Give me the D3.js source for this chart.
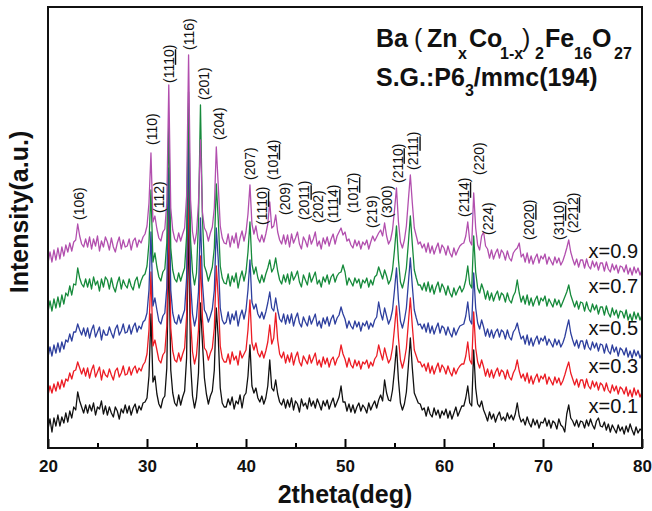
<!DOCTYPE html>
<html>
<head>
<meta charset="utf-8">
<script src="https://cdn.jsdelivr.net/npm/d3@7"></script>
<style>
  body { margin: 0; background: #fff; }
  svg { display: block; font-family: Arial, "Liberation Sans", sans-serif; }
</style>
</head>
<body>
<svg></svg>
<script>
// Scan grid: 20-80 deg, 0.2 deg step (301 points)
const twoTheta = d3.range(301).map(i => 20 + i * 0.2);

// Offset intensities (a.u.), one row = 2 deg
const xrdX01 = [
  19,29,16,30,22,33,22,31,25,35, 26,37,30,41,38,56,47,41,35,43,
  35,43,37,45,33,41,39,47,34,42, 33,41,35,31,41,37,29,39,35,43,
  35,42,33,40,44,35,42,38,45,46, 50,72,134,66,72,54,44,40,49,52,
  80,200,78,55,45,42,53,43,51,57, 90,230,85,52,40,50,75,145,105,70,
  54,44,52,57,78,140,110,60,45,41, 41,49,43,51,39,47,44,53,40,52,
  55,72,103,62,55,60,50,46,52,44, 50,62,88,60,57,68,54,46,43,49,
  40,48,41,50,38,47,44,36,49,42, 45,39,50,42,47,40,49,44,38,47,
  42,48,39,45,50,41,46,51,62,46, 46,37,44,36,43,35,41,45,37,43,
  40,35,45,38,43,47,40,48,53,47, 68,55,48,47,58,78,102,68,45,38,
  44,56,82,110,80,55,50,45,44,38, 40,32,41,34,31,40,33,38,30,37,
  33,39,30,37,29,35,41,32,37,42, 42,50,62,45,42,98,60,44,41,47,
  38,33,27,36,29,34,26,32,36,28, 31,27,35,29,33,28,34,45,32,26,
  29,23,31,25,21,29,23,28,20,26, 25,30,22,28,20,27,25,19,29,23,
  21,16,34,43,30,27,22,28,21,27, 26,20,28,22,29,23,19,27,30,22,
  21,26,18,24,16,23,19,15,23,17, 21,14,22,16,24,18,13,21,15,19,
  17
];
const xrdX03 = [
  53,62,55,64,57,66,59,68,61,69, 67,75,69,77,78,86,80,74,80,72,
  80,70,78,83,71,76,81,68,78,73, 71,79,73,68,77,80,71,75,82,73,
  74,81,73,79,82,75,80,77,83,86, 94,118,176,102,108,98,88,85,93,96,
  122,240,120,97,88,86,95,87,94,100, 132,272,128,96,84,93,118,192,130,100,
  97,88,95,100,120,182,150,102,90,86, 86,94,84,96,88,92,83,97,90,94,
  98,118,148,105,98,105,95,91,97,90, 97,106,123,104,110,135,108,94,90,96,
  85,93,86,95,83,91,96,86,82,92, 88,84,93,85,90,95,83,88,81,91,
  84,90,81,88,91,83,89,92,103,94, 89,81,90,83,80,88,82,87,79,86,
  84,88,80,86,82,89,92,103,95,88, 100,92,85,89,100,120,142,110,88,80,
  88,100,125,150,122,98,92,86,86,81, 84,77,85,75,82,74,80,85,76,83,
  80,74,82,76,72,80,74,79,82,84, 84,92,106,88,84,136,100,86,80,88,
  81,72,79,71,78,70,76,80,72,78, 76,69,78,71,68,75,79,88,77,70,
  74,67,75,65,72,64,70,74,66,72, 69,74,64,71,67,63,71,65,70,63,
  67,73,80,86,75,69,63,69,61,68, 68,60,69,62,59,67,61,66,58,65,
  63,57,65,58,55,63,57,62,54,61, 59,54,61,52,58,51,60,53,58,51,
  56
];
const xrdX05 = [
  91,101,92,103,95,105,96,106,99,108, 106,114,107,116,116,124,118,113,120,112,
  120,110,118,123,111,116,121,108,118,113, 113,121,115,110,119,123,113,117,124,115,
  116,123,114,121,125,116,122,119,126,128, 135,158,216,142,150,138,127,124,132,135,
  160,280,158,135,126,124,133,125,132,138, 170,310,166,134,122,131,156,230,165,138,
  134,126,132,139,158,220,188,140,128,124, 126,136,124,134,128,137,122,132,138,129,
  138,158,188,146,139,144,134,130,136,129, 136,145,156,140,137,150,138,129,126,134,
  124,133,125,134,122,130,135,125,121,131, 126,122,132,124,129,134,122,127,120,130,
  124,131,122,129,133,124,130,133,141,134, 129,120,127,122,119,127,121,126,117,125,
  122,127,119,125,121,128,131,146,135,128, 140,132,124,129,138,158,180,148,127,120,
  128,140,165,190,162,138,130,123,124,119, 124,116,125,115,122,114,120,125,115,122,
  120,113,121,115,111,120,113,118,122,123, 124,132,146,128,124,175,140,125,119,128,
  121,112,119,111,118,110,116,119,111,118, 116,109,118,111,108,116,119,125,116,109,
  112,104,113,103,110,102,108,112,104,110, 107,112,103,109,105,101,109,103,108,101,
  105,111,120,128,115,108,102,108,100,107, 107,99,108,101,98,106,100,105,97,104,
  103,95,104,97,94,103,96,101,92,100, 98,93,100,91,97,90,98,92,97,90,
  95
];
const xrdX07 = [
  136,147,137,149,140,151,141,153,144,155, 152,162,153,164,163,180,170,164,161,169,
  161,169,159,171,163,167,157,169,161,171, 168,159,170,161,156,165,171,159,168,163,
  160,169,162,158,167,171,160,167,172,174, 182,205,258,186,195,181,171,167,176,179,
  205,326,200,178,169,166,175,167,174,180, 212,356,208,176,163,175,225,343,230,182,
  176,167,174,181,200,264,228,182,170,165, 164,174,162,172,166,175,160,170,177,167,
  176,196,226,184,174,181,170,165,173,166, 174,180,188,176,180,190,177,168,164,173,
  166,174,164,176,168,172,177,166,161,173, 168,163,175,166,171,176,164,168,161,171,
  166,173,164,171,174,166,172,175,176,183, 176,163,170,166,162,170,165,169,160,168,
  165,170,161,168,163,171,173,181,175,169, 178,172,164,168,178,198,222,188,166,160,
  168,180,205,232,204,178,170,163,163,158, 165,157,166,156,163,154,161,166,156,164,
  160,153,162,155,151,160,153,158,162,156, 160,168,182,164,160,212,176,160,155,164,
  158,149,157,148,155,147,153,157,148,155, 153,146,155,148,145,152,156,168,155,146,
  152,144,153,143,150,142,148,152,143,150, 147,152,142,149,145,141,149,143,148,141,
  146,151,156,163,153,147,141,147,139,146, 145,137,146,139,136,144,138,143,134,141,
  141,133,142,135,131,140,133,138,130,137, 136,130,138,128,134,127,136,129,135,128,
  133
];
const xrdX09 = [
  185,196,186,198,188,200,189,201,192,203, 196,205,197,206,208,224,212,204,201,209,
  201,211,199,209,202,212,197,207,201,211, 206,198,210,201,196,205,211,199,208,201,
  202,209,198,207,210,201,208,205,211,214, 222,245,295,226,232,219,210,207,216,219,
  245,363,240,218,209,206,215,207,214,220, 252,393,248,216,204,215,245,308,236,220,
  216,207,215,221,240,301,262,222,210,205, 204,214,201,212,205,215,200,210,217,207,
  216,234,263,224,214,222,210,206,213,206, 214,224,246,220,222,233,216,208,204,213,
  204,213,201,214,205,210,216,204,199,211, 207,201,213,204,209,216,202,207,199,210,
  204,211,202,209,214,204,212,216,220,213, 216,207,209,203,200,208,202,207,199,206,
  203,208,199,206,212,207,211,215,218,212, 225,212,204,208,218,238,260,226,206,200,
  208,222,248,273,245,220,212,204,206,200, 204,196,205,195,202,194,200,205,195,203,
  200,193,202,195,191,200,193,198,202,204, 205,212,226,207,203,255,220,203,198,212,
  216,202,199,190,198,189,195,199,190,198, 195,188,197,190,187,195,198,200,205,191,
  194,186,195,185,192,184,190,194,185,192, 189,194,184,191,187,183,191,185,190,183,
  187,193,200,208,196,189,183,189,181,188, 188,180,189,182,179,187,181,186,178,185,
  185,177,186,179,176,184,178,183,175,182, 181,176,183,174,180,173,181,175,180,173,
  178
];

const compositions = ["x=0.1", "x=0.3", "x=0.5", "x=0.7", "x=0.9"];
const compLevel = [35, 75, 113, 155, 190];
const seriesColors = ["#111111", "#ec1c24", "#2e3f9e", "#168a3b", "#b24fae"];
const patterns = [xrdX01, xrdX03, xrdX05, xrdX07, xrdX09];

// Miller index labels: "_" marks the underlined part
const hklText = ["(106)", "(110)", "(112)", "(11_10_)", "(116)", "(201)", "(204)", "(207)",
  "(11_10_)", "(10_14_)", "(209)", "(20_11_)", "(202)", "(11_14_)", "(10_17_)", "(219)",
  "(300)", "(21_10_)", "(21_11_)", "(21_14_)", "(220)", "(224)", "(20_20_)", "(31_10_)", "(22_12_)"];
const hklAngle = [23.1, 30.5, 31.2, 32.2, 34.2, 35.8, 37.3, 40.4, 41.6, 42.7, 43.9, 45.9,
  47.3, 48.8, 50.8, 52.7, 54.2, 55.3, 56.9, 62.0, 63.5, 64.4, 68.6, 71.6, 73.0];
const hklLevel = [228, 303, 235, 365, 398, 348, 308, 268, 223, 268, 233, 228,
  225, 225, 235, 220, 230, 265, 278, 231, 273, 213, 208, 208, 215];

const xTicks = [20, 30, 40, 50, 60, 70, 80];
const xMinorTicks = [25, 35, 45, 55, 65, 75];

const width = 652;
const height = 511;
const margin = { top: 7, right: 10, bottom: 63, left: 48 };

const svg = d3.select("svg")
  .attr("width", width)
  .attr("height", height);

const x = d3.scaleLinear().domain([20, 80]).range([margin.left, width - margin.right]);
const y = d3.scaleLinear().domain([0, 441]).range([height - margin.bottom, margin.top]);

// Patterns, bottom one first so the x=0.9 trace sits on top
const line = d3.line()
  .x((d, i) => x(twoTheta[i]))
  .y(d => y(d));

svg.append("g")
  .selectAll("path")
  .data(patterns)
  .enter()
  .append("path")
  .attr("d", line)
  .attr("fill", "none")
  .attr("stroke", (d, i) => seriesColors[i])
  .attr("stroke-width", 1.3)
  .attr("stroke-linejoin", "round");

// Composition labels near the right edge
svg.append("g")
  .selectAll("text")
  .data(compositions)
  .enter()
  .append("text")
  .attr("x", x(79.6))
  .attr("y", (d, i) => y(compLevel[i]))
  .attr("text-anchor", "end")
  .attr("font-size", 20)
  .attr("fill", "#111")
  .text(d => d);

// hkl labels, rotated, reading bottom to top
const hkl = svg.append("g")
  .selectAll("text")
  .data(hklText)
  .enter()
  .append("text")
  .attr("transform", (d, i) => `translate(${x(hklAngle[i])},${y(hklLevel[i])}) rotate(-90)`)
  .attr("dy", "0.36em")
  .attr("font-size", 14)
  .attr("fill", "#111");

hkl.each(function(d) {
  const t = d3.select(this);
  d.split("_").forEach((part, k) => {
    if (!part) return;
    t.append("tspan")
      .attr("text-decoration", k % 2 ? "underline" : null)
      .text(part);
  });
});

// Axes
const xAxis = svg.append("g")
  .attr("transform", `translate(0,${height - margin.bottom})`)
  .call(d3.axisBottom(x).tickValues(xTicks).tickSizeInner(-9).tickSizeOuter(0).tickPadding(12));

xAxis.select(".domain").remove();
xAxis.selectAll(".tick line").attr("stroke", "#000").attr("stroke-width", 2);
xAxis.selectAll(".tick text")
  .attr("font-size", 17)
  .attr("font-weight", "bold")
  .attr("font-family", "Arial, 'Liberation Sans', sans-serif")
  .attr("fill", "#111");

const xMinor = svg.append("g")
  .attr("transform", `translate(0,${height - margin.bottom})`)
  .call(d3.axisBottom(x).tickValues(xMinorTicks).tickSizeInner(-5).tickSizeOuter(0).tickFormat(""));
xMinor.select(".domain").remove();
xMinor.selectAll(".tick line").attr("stroke", "#000").attr("stroke-width", 2);

// Frame
svg.append("rect")
  .attr("x", margin.left)
  .attr("y", margin.top)
  .attr("width", width - margin.left - margin.right)
  .attr("height", height - margin.top - margin.bottom)
  .attr("fill", "none")
  .attr("stroke", "#111")
  .attr("stroke-width", 2);

// Axis titles
svg.append("text")
  .attr("x", (margin.left + width - margin.right) / 2)
  .attr("y", 503)
  .attr("text-anchor", "middle")
  .attr("font-size", 25)
  .attr("font-weight", "bold")
  .attr("fill", "#111")
  .text("2theta(deg)");

svg.append("text")
  .attr("transform", "rotate(-90)")
  .attr("x", -212)
  .attr("y", 28)
  .attr("text-anchor", "middle")
  .attr("font-size", 25)
  .attr("font-weight", "bold")
  .attr("fill", "#111")
  .text("Intensity(a.u.)");

// Formula: each piece placed where it sits in the original
const title = svg.append("text")
  .attr("font-size", 25)
  .attr("font-weight", "bold")
  .attr("fill", "#111");
const titleParts = [
  ["Ba", 376, 0], ["(", 414, 0, true], ["Zn", 427, 0], ["x", 458, 1], ["Co", 469, 0],
  ["1-x", 500, 1], [")", 522, 0, true], ["2", 535, 1], ["Fe", 545, 0], ["16", 574, 1],
  ["O", 592, 0], ["27", 614, 1]
];
titleParts.forEach(([txt, px, sub, paren]) => {
  const ts = title.append("tspan").attr("x", px).attr("y", sub ? 59 : 47).text(txt);
  if (sub) ts.attr("font-size", 16);
  if (paren) ts.attr("font-weight", "normal");
});

const sg = svg.append("text")
  .attr("x", 376)
  .attr("y", 86)
  .attr("font-size", 25)
  .attr("font-weight", "bold")
  .attr("fill", "#111");
sg.append("tspan").text("S.G.:P6");
sg.append("tspan").attr("dy", 10).attr("font-size", 16).text("3");
sg.append("tspan").attr("dy", -10).text("/mmc(194)");
</script>
</body>
</html>
